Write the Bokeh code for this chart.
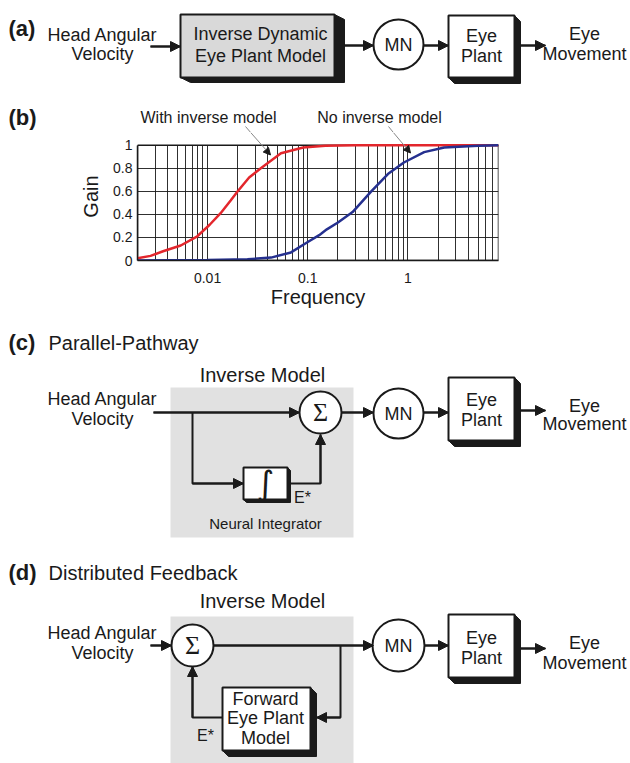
from bokeh.plotting import figure
from bokeh.models import Range1d, Arrow, NormalHead, FixedTicker, NumeralTickFormatter
from bokeh.layouts import column
from bokeh.embed import file_html
from bokeh.resources import INLINE
from bokeh.core.properties import value
import math

# ---------------- data for panel (b) ----------------
freq_with = [0.002, 0.0027, 0.0036, 0.0054, 0.0079, 0.0105, 0.0135, 0.017, 0.02,
             0.026, 0.034, 0.054, 0.09, 0.15, 0.3, 1, 8]
gain_with = [0.02, 0.04, 0.08, 0.13, 0.21, 0.31, 0.41, 0.52, 0.60,
             0.72, 0.80, 0.93, 0.98, 0.995, 1.0, 1.0, 1.0]
freq_without = [0.002, 0.01, 0.025, 0.043, 0.068, 0.1, 0.13, 0.155, 0.2, 0.28,
                0.43, 0.63, 0.91, 1.45, 2.3, 5, 8]
gain_without = [0.0, 0.005, 0.01, 0.025, 0.07, 0.16, 0.22, 0.27, 0.33, 0.42,
                0.60, 0.75, 0.85, 0.94, 0.98, 0.995, 1.0]
x_major_ticks = [0.01, 0.1, 1]
y_ticks = [0, 0.2, 0.4, 0.6, 0.8, 1]
x_min, x_max = 0.002, 8
g_min, g_max = 0, 1

FONT = "Liberation Sans"
INK = "#1a1a1a"
W = 630


def diagram(y_top, y_bot):
    p = figure(width=W, height=y_bot - y_top, x_range=Range1d(0, W), y_range=Range1d(y_bot, y_top),
               output_backend="svg", toolbar_location=None, x_axis_type=None, y_axis_type=None,
               min_border=0, frame_align=False)
    p.outline_line_color = None
    return p


def txt(p, x, y, s, size=18, align="center", bold=False, font=FONT, color=INK):
    p.text(x=[x], y=[y], text=[s], text_font=value(font), text_font_size=f"{size}px",
           text_align=align, text_baseline="middle", text_color=color,
           text_font_style="bold" if bold else "normal")


def box3d(p, l, r, t, b, dx, dy, fill="white"):
    p.patch([r, r + dx, r + dx, l + dx, l], [t, t + dy, b + dy, b + dy, b],
            fill_color=INK, line_color=INK, line_width=1)
    p.quad(left=[l], right=[r], top=[t], bottom=[b], fill_color=fill, line_color=INK, line_width=2)


def arrow(p, xs, ys):
    p.line(xs, ys, line_color=INK, line_width=2)
    p.add_layout(Arrow(end=NormalHead(size=10, fill_color=INK, line_color=INK),
                       x_start=xs[-2], y_start=ys[-2], x_end=xs[-1], y_end=ys[-1],
                       line_color=INK, line_width=2))


def node(p, x, y, r, s, size=18, font=FONT):
    p.circle(x=[x], y=[y], radius=r, fill_color="white", line_color=INK, line_width=2)
    txt(p, x, y, s, size, font=font)


TOP = 132   # page y where the chart figure starts

# ---------------- panel (a) + headings of (b) ----------------
pa = diagram(0, TOP)
txt(pa, 8, 28, "(a)", 22, "left", bold=True)
txt(pa, 102, 34, "Head Angular")
txt(pa, 102, 53, "Velocity")
arrow(pa, [150, 180], [46, 46])
box3d(pa, 180, 334, 14, 77, 10, 5, fill="#d9d9d9")
txt(pa, 260, 33, "Inverse Dynamic")
txt(pa, 260, 55, "Eye Plant Model")
arrow(pa, [344, 373], [45, 45])
node(pa, 398, 44, 25, "MN")
arrow(pa, [423, 448], [45, 45])
box3d(pa, 448, 514, 15, 77, 6, 6)
txt(pa, 481, 35, "Eye")
txt(pa, 481, 55, "Plant")
arrow(pa, [520, 545], [45, 45])
txt(pa, 584, 33, "Eye")
txt(pa, 584, 53, "Movement")
txt(pa, 8, 117, "(b)", 22, "left", bold=True)
txt(pa, 208, 117, "With inverse model", 16)
txt(pa, 379, 117, "No inverse model", 16)
leaders = [(245, 126, 270, 155), (388, 126, 410, 153)]
for (x0, y0, x1, y1) in leaders:
    xc = x0 + (TOP - y0) * (x1 - x0) / (y1 - y0)
    pa.line([x0, xc], [y0, TOP], line_color="#888888", line_width=1)

# ---------------- panel (b) ----------------
L, R, T, B = 137, 498, 145, 263   # plot box in page pixels
g_top = g_max + (T - TOP) / (B - T) * (g_max - g_min)
pb = figure(width=W, height=310 - TOP, x_axis_type="log", x_range=Range1d(x_min, x_max),
            y_range=Range1d(g_min, g_top), output_backend="svg", toolbar_location=None,
            min_border_left=L, min_border_right=W - R, min_border_top=0,
            min_border_bottom=310 - B, frame_align=False)
minor = [m * 10.0 ** e for e in range(-3, 1) for m in range(2, 10) if x_min <= m * 10.0 ** e <= x_max]
xt = FixedTicker(ticks=x_major_ticks, minor_ticks=minor)
yt = FixedTicker(ticks=y_ticks)
pb.xaxis.ticker = xt
pb.xgrid.ticker = xt
pb.yaxis.ticker = yt
pb.ygrid.ticker = yt
pb.xaxis.formatter = NumeralTickFormatter(format="0.[00]")
pb.yaxis.formatter = NumeralTickFormatter(format="0.[0]")
for g in (pb.xgrid, pb.ygrid):
    g.grid_line_color = INK
    g.grid_line_width = 1
    g.grid_line_alpha = 0.9
pb.xgrid.minor_grid_line_color = INK
pb.xgrid.minor_grid_line_alpha = 0.9
pb.xgrid.cross_bounds = (g_min, g_max)
pb.outline_line_color = None
pb.yaxis.bounds = (g_min, g_max)
for ax in (pb.xaxis, pb.yaxis):
    ax.axis_line_color = INK
    ax.axis_line_width = 1.5
    ax.major_tick_line_color = None
    ax.minor_tick_line_color = None
    ax.major_tick_out = 0
    ax.major_tick_in = 0
    ax.major_label_text_font = FONT
    ax.major_label_text_font_size = "14px"
    ax.major_label_text_color = INK
    ax.axis_label_text_font = FONT
    ax.axis_label_text_font_size = "20px"
    ax.axis_label_text_font_style = "normal"
    ax.axis_label_text_color = INK
pb.xaxis.axis_label = "Frequency"
pb.yaxis.axis_label = "Gain"
pb.xaxis.major_label_standoff = 8
pb.yaxis.major_label_standoff = 5
pb.xaxis.axis_label_standoff = 0
pb.yaxis.axis_label_standoff = 8

pb.quad(left=[x_min], right=[x_max], bottom=[g_min], top=[g_max],
        fill_color=None, line_color=INK, line_width=1.5)
pb.line(freq_with, gain_with, line_color="#e3262c", line_width=2.5)
pb.line(freq_without, gain_without, line_color="#25308f", line_width=2.5)

dec = (R - L) / math.log10(x_max / x_min)


def fx(px):
    return x_min * 10 ** ((px - L) / dec)


def gy(py):
    return g_min + (B - py) / (B - T) * (g_max - g_min)


for (x0, y0, x1, y1) in leaders:
    xc = x0 + (TOP - y0) * (x1 - x0) / (y1 - y0)
    pb.add_layout(Arrow(end=NormalHead(size=7, fill_color=INK, line_color=INK),
                        x_start=fx(xc), y_start=gy(TOP), x_end=fx(x1), y_end=gy(y1),
                        line_color="#888888", line_width=1))

# ---------------- panels (c) and (d) ----------------
pc = diagram(310, 763)
GRAY = "#e1e1e1"
# (c)
txt(pc, 8, 342, "(c)", 22, "left", bold=True)
txt(pc, 48, 342, "Parallel-Pathway", 20, "left")
pc.quad(left=[170], right=[353], top=[387], bottom=[537], fill_color=GRAY, line_color=None)
txt(pc, 262, 374, "Inverse Model", 20)
txt(pc, 102, 398, "Head Angular")
txt(pc, 102, 418, "Velocity")
arrow(pc, [153, 299], [412, 412])
arrow(pc, [192, 192, 243], [412, 483, 483])
box3d(pc, 243, 287, 467, 499, 3, 3)
txt(pc, 265, 482, "∫", 34, font="DejaVu Sans")
arrow(pc, [290, 320, 320], [483, 483, 434])
node(pc, 320, 412, 21, "Σ", 26, font="Liberation Serif")
txt(pc, 302, 497, "E*", 16)
txt(pc, 265, 523, "Neural Integrator", 15)
arrow(pc, [341, 373], [412, 412])
node(pc, 398, 413, 25, "MN")
arrow(pc, [423, 448], [412, 412])
box3d(pc, 448, 514, 377, 440, 6, 6)
txt(pc, 481, 399, "Eye")
txt(pc, 481, 419, "Plant")
arrow(pc, [520, 545], [410, 410])
txt(pc, 584, 405, "Eye")
txt(pc, 584, 423, "Movement")

# (d)
txt(pc, 8, 572, "(d)", 22, "left", bold=True)
txt(pc, 48, 572, "Distributed Feedback", 20, "left")
pc.quad(left=[170], right=[353], top=[616], bottom=[770], fill_color=GRAY, line_color=None)
txt(pc, 262, 600, "Inverse Model", 20)
txt(pc, 102, 632, "Head Angular")
txt(pc, 102, 652, "Velocity")
arrow(pc, [150, 171], [645, 645])
arrow(pc, [213, 373], [645, 645])
arrow(pc, [340, 340, 316], [645, 717, 717])
box3d(pc, 222, 310, 687, 750, 6, 6)
txt(pc, 265, 698, "Forward")
txt(pc, 265, 717, "Eye Plant")
txt(pc, 265, 737, "Model")
arrow(pc, [222, 192, 192], [717, 717, 666])
node(pc, 192, 645, 21, "Σ", 26, font="Liberation Serif")
txt(pc, 205, 735, "E*", 16)
node(pc, 398, 645, 26, "MN")
arrow(pc, [424, 448], [645, 645])
box3d(pc, 448, 514, 614, 677, 6, 6)
txt(pc, 481, 637, "Eye")
txt(pc, 481, 657, "Plant")
arrow(pc, [520, 545], [648, 648])
txt(pc, 584, 642, "Eye")
txt(pc, 584, 662, "Movement")

layout = column(pa, pb, pc, spacing=0)
open("out.html", "w").write(file_html(layout, INLINE))
